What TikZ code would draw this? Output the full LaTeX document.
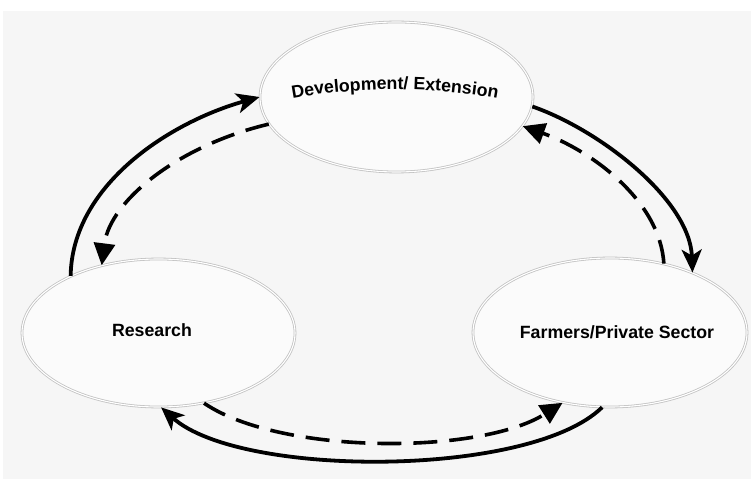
\documentclass[tikz,border=0pt]{standalone}
\usepackage{fontspec}
\setmainfont{Liberation Sans}
\usetikzlibrary{shapes.geometric,arrows.meta,decorations.text}
\definecolor{bgc}{HTML}{F6F6F6}
\definecolor{elc}{HTML}{C2C2C2}
\begin{document}
\begin{tikzpicture}[x=1bp,y=-1bp,
  ell/.style={ellipse, draw=elc, line width=0.8bp, double=white, double distance=1.1bp, fill=white!60!bgc, inner sep=0pt},
  lbl/.style={font=\bfseries\fontsize{17.8}{21}\selectfont, inner sep=0pt},
  solidarr/.style={line width=3.8bp, -{Stealth[length=23bp,width=20bp,inset=6bp]}},
  dasharr/.style={line width=3.6bp, dash pattern=on 24bp off 12bp, -{Triangle[length=22bp,width=21bp]}}]
\useasboundingbox (0,0) rectangle (751,479);
\fill[white] (0,0) rectangle (751,479);
\fill[bgc] (3,11) rectangle (751,479);

\node[ell, minimum width=273bp, minimum height=150bp] (dev) at (396.5,97) {};
\node[ell, minimum width=273bp, minimum height=148bp] (res) at (158.5,333) {};
\node[ell, minimum width=274bp, minimum height=149bp] (farm) at (610,332.5) {};

\path[decorate, decoration={text along path, text align=center,
  text={|\bfseries\fontsize{17.8}{21}\selectfont|Development/ Extension}}]
  (280,101) .. controls (348,86) and (442,86) .. (510,101);
\node[lbl] (restext) at (152,330) {Research};
\node[lbl] (farmtext) at (617,332) {Farmers/Private Sector};

\draw[solidarr] (res.147) .. controls (72,185) and (170,122) .. (dev.180);
\draw[dasharr] (dev.192) .. controls (180,145) and (110,200) .. (res.130);
\draw[solidarr] (dev.-4) .. controls (600,130) and (690,200) .. (farm.36);
\draw[dasharr] (farm.52) .. controls (660,200) and (590,150) .. (dev.-13);
\draw[solidarr] (farm.264) .. controls (530,478) and (240,478) .. (res.272);
\draw[dasharr] (res.303) .. controls (280,455) and (480,455) .. (farm.236);
\end{tikzpicture}
\end{document}
